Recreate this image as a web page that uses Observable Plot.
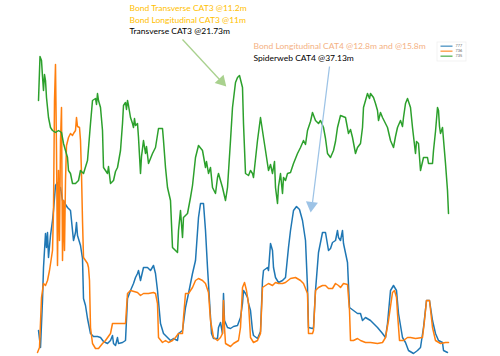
<!DOCTYPE html>
<html><head><meta charset="utf-8">
<script src="https://cdn.jsdelivr.net/npm/d3@7"></script>
<script src="https://cdn.jsdelivr.net/npm/@observablehq/plot@0.6"></script>
<style>body{margin:0;background:#fff}#chart{position:relative;width:500px;height:356px}</style>
</head><body><div id="chart"></div>
<script>
// series names (legend)
const seriesNames = ["777", "736", "735"];
const seriesColors = ["#1f77b4", "#ff7f0e", "#2ca02c"];

// [sample, level] readings
const s777 = [[38,26],[40,9],[42,56],[43,89],[45,123],[46,109],[47,124],[48,99],[50,121],[52,136],[53,146],[55,171],[57,174],[58,163],[60,169],[62,156],[63,156],[65,152],[67,149],[70,146],[72,126],[73,116],[75,124],[76,134],[77,121],[80,111],[82,98],[83,58],[85,51],[87,38],[88,33],[90,23],[93,20],[97,20],[100,19],[103,15],[107,13],[110,16],[112,21],[113,13],[115,11],[117,19],[118,13],[122,14],[125,16],[127,58],[130,66],[133,73],[135,79],[137,83],[138,86],[140,76],[143,89],[147,89],[150,86],[153,91],[155,83],[157,66],[160,33],[163,23],[167,19],[170,16],[173,18],[177,16],[178,23],[182,26],[185,49],[188,63],[192,83],[195,96],[198,139],[200,153],[203,153],[205,126],[207,89],[209,56],[211,23],[213,18],[217,18],[218,29],[220,34],[222,23],[223,63],[224,36],[227,29],[230,28],[233,30],[237,31],[240,39],[242,53],[243,66],[245,63],[247,59],[248,53],[250,46],[252,26],[253,21],[257,18],[260,25],[262,76],[263,86],[267,89],[268,86],[270,113],[272,106],[273,89],[275,79],[278,74],[282,76],[285,79],[288,109],[290,126],[293,146],[296,150],[299,147],[302,136],[305,116],[307,69],[308,29],[312,28],[313,29],[315,66],[318,104],[322,124],[325,124],[328,106],[330,108],[332,114],[335,116],[337,126],[338,119],[340,116],[342,126],[343,113],[347,94],[349,49],[353,46],[357,43],[360,43],[362,36],[365,39],[370,36],[373,33],[377,29],[382,23],[385,19],[387,33],[390,66],[393,71],[396,66],[398,43],[402,19],[405,14],[408,6],[413,3],[417,6],[420,9],[423,29],[426,56],[429,56],[432,36],[435,23],[438,16],[442,14],[443,6],[447,4]];

const s736 = [[37,4],[39,9],[41,59],[43,73],[45,71],[47,76],[49,86],[52,106],[53,146],[54,256],[55,292],[56,206],[57,91],[58,186],[59,116],[60,216],[61,249],[62,96],[63,156],[64,106],[65,176],[66,211],[68,219],[70,223],[72,221],[73,223],[75,226],[76,239],[77,230],[79,229],[80,216],[81,183],[82,136],[83,99],[87,93],[88,89],[89,76],[90,29],[92,13],[95,8],[98,8],[102,13],[105,16],[110,23],[112,33],[115,33],[120,33],[125,33],[127,63],[130,66],[137,64],[140,61],[143,63],[148,63],[153,64],[155,63],[157,53],[158,19],[162,14],[165,16],[168,14],[172,16],[175,19],[178,23],[182,23],[183,39],[185,63],[188,63],[192,69],[195,76],[198,78],[202,76],[205,73],[208,64],[210,36],[213,19],[217,16],[220,19],[222,23],[223,56],[224,29],[225,13],[230,10],[233,13],[238,16],[240,29],[242,69],[244,74],[246,66],[248,53],[250,19],[253,14],[257,16],[260,23],[262,69],[265,71],[268,73],[272,71],[275,74],[278,73],[282,73],[285,74],[290,78],[295,79],[300,76],[303,73],[307,63],[308,23],[312,23],[313,26],[315,66],[318,69],[322,71],[325,71],[328,68],[332,68],[335,73],[338,71],[340,69],[343,73],[347,72],[349,46],[350,16],[353,16],[357,18],[360,16],[365,14],[370,14],[377,13],[382,14],[385,19],[388,36],[392,64],[394,66],[396,59],[397,43],[399,16],[403,16],[407,19],[410,19],[415,18],[422,19],[424,36],[426,56],[429,56],[432,29],[435,16],[440,13],[445,14],[448,14]];

const s735 = [[38,256],[39.5,300],[41,296],[42,280],[43,266],[44,282],[45,276],[46,259],[48,239],[50,229],[52,226],[55,224],[58,226],[61,224],[63,213],[67,199],[68,186],[70,183],[72,173],[75,173],[78,176],[80,186],[83,183],[87,196],[90,233],[92,256],[95,258],[96,252],[97,263],[98,256],[100,249],[102,226],[103,189],[107,183],[108,190],[110,173],[113,176],[115,185],[117,189],[120,206],[122,233],[123,251],[125,254],[126,247],[127,256],[128,251],[130,239],[132,233],[133,229],[134,238],[135,231],[137,233],[138,219],[140,183],[141,200],[143,216],[145,203],[146,210],[148,193],[150,198],[152,203],[155,209],[158,228],[162,228],[163,216],[165,189],[167,169],[170,156],[172,109],[175,106],[177,104],[178,126],[180,146],[182,119],[183,139],[187,143],[190,159],[192,171],[195,199],[198,211],[202,206],[205,189],[206,195],[208,183],[210,189],[212,169],[215,163],[217,179],[218,183],[222,169],[225,156],[227,169],[230,216],[232,249],[235,274],[237,279],[239,281],[242,269],[243,233],[245,183],[248,181],[250,186],[252,183],[253,179],[257,216],[260,239],[263,219],[265,206],[268,186],[270,192],[272,183],[274,195],[275,169],[277,153],[278,170],[280,183],[282,163],[283,179],[285,176],[287,183],[290,184],[293,193],[297,203],[300,209],[303,216],[305,212],[307,226],[308,229],[310,235],[312,244],[315,236],[318,233],[320,236],[323,229],[325,218],[327,203],[330,199],[333,206],[335,215],[337,229],[340,241],[345,239],[348,223],[350,227],[352,219],[355,203],[357,209],[360,213],[362,229],[363,249],[365,256],[367,263],[369,258],[370,263],[373,259],[375,253],[377,246],[378,236],[380,244],[382,239],[385,233],[387,229],[390,216],[393,209],[395,220],[397,229],[400,236],[402,230],[403,239],[405,253],[407,258],[410,249],[412,229],[415,203],[416,215],[418,213],[420,186],[423,199],[427,199],[428,193],[432,193],[433,206],[435,225],[437,249],[438,246],[439,230],[440,223],[442,229],[445,193],[447,166],[448,143]];

// annotation texts
const noteLines = [
  {text: "Bond Transverse CAT3 @11.2m", x: 129, v: 348, color: "#ffc000"},
  {text: "Bond Longitudinal CAT3 @11m", x: 129, v: 336.5, color: "#ffc000"},
  {text: "Transverse CAT3 @21.73m", x: 129, v: 325, color: "#000000"},
  {text: "Bond Longitudinal CAT4 @12.8m and @15.8m", x: 253, v: 310, color: "#f4b183"},
  {text: "Spiderweb CAT4 @37.13m", x: 253, v: 298.5, color: "#000000"}
];
// annotation arrows (from note to feature)
const arrows = [
  {x1: 182, v1: 317, x2: 219, v2: 277, color: "#a9d18e", angle: 137, hx: 221, hv: 275},
  {x1: 329, v1: 290, x2: 312, v2: 154, color: "#9dc3e6", angle: 187, hx: 311, hv: 151}
];
// legend rows
const legendRows = seriesNames.map((n, i) => ({name: n, v: 310.3 - i * 5, color: seriesColors[i]}));

const rows = [];
[s777, s736, s735].forEach((s, i) => s.forEach(([x, v]) => rows.push({name: seriesNames[i], x, v})));

// fit the note font so two reference lines get their measured widths (100px and 173px)
const FONT = "Lato";
const ctx = document.createElement("canvas").getContext("2d");
ctx.font = "100px " + FONT;
const wSum = ctx.measureText(noteLines[4].text).width + ctx.measureText(noteLines[3].text).width;
const noteSize = Math.max(7, Math.min(12, 100 * (100 + 173) / wSum));

const chart = Plot.plot({
  width: 500, height: 356, margin: 0,
  style: {fontFamily: FONT + ", Liberation Sans, Arial, sans-serif", background: "#fff"},
  x: {domain: [0, 500], axis: null},
  y: {domain: [0, 356], axis: null},
  color: {domain: seriesNames, range: seriesColors},
  marks: [
    Plot.line(rows, {x: "x", y: "v", z: "name", stroke: "name", strokeWidth: 1.5, curve: "linear"}),
    Plot.link(arrows, {x1: "x1", y1: "v1", x2: "x2", y2: "v2", stroke: "color", strokeWidth: 1.3}),
    Plot.dot(arrows, {x: "hx", y: "hv", symbol: "triangle", r: 4.5, fill: "color", rotate: "angle"}),
    Plot.rect([0], {x1: 437, x2: 466, y1: 295, y2: 314, fill: "#fff", stroke: "#eee", strokeWidth: 0.7}),
    Plot.text(noteLines, {x: "x", y: "v", text: "text", fill: "color", textAnchor: "start", lineAnchor: "middle", fontSize: noteSize}),
    Plot.link(legendRows, {x1: 440, x2: 452, y1: "v", y2: "v", stroke: "color", strokeWidth: 1.5, strokeOpacity: 0.7}),
    Plot.text(legendRows, {x: 455, y: "v", text: "name", textAnchor: "start", lineAnchor: "middle", fontSize: 3.8, fill: "#555"})
  ]
});
document.getElementById("chart").append(chart);
</script>
</body></html>
